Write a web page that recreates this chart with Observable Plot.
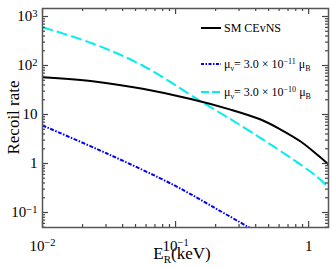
<!DOCTYPE html>
<html><head><meta charset="utf-8">
<script src="https://cdn.jsdelivr.net/npm/d3@7"></script>
<script src="https://cdn.jsdelivr.net/npm/@observablehq/plot@0.6"></script>
<style>body{margin:0;background:#fff}#chart{width:332px;height:267px}</style>
</head><body><div id="chart"></div>
<script>
// recoil energy (keV) and rates
const energySM = [0.01, 0.0238, 0.0565, 0.130, 0.259, 0.436, 0.616, 0.871, 1.23, 1.41];
const smCEvNS = [57.7, 47.9, 33.4, 20.7, 12.6, 7.9, 4.94, 2.81, 1.32, 0.955];
const energyMu10 = [0.01, 0.0238, 0.0565, 0.154, 0.259, 0.436, 0.616, 0.871, 1.13, 1.41];
const mu10 = [605, 281, 100, 18.7, 8.02, 3.30, 1.79, 0.946, 0.564, 0.324];
const energyMu11 = [0.01, 0.0308, 0.0983, 0.193, 0.354, 0.451];
const mu11 = [5.97, 1.58, 0.356, 0.128, 0.0501, 0.0343];

const xTicks = [0.01, 0.1, 1];
const xTickLabels = ["10^−2", "10^−1", "1"];
const yTicks = [0.1, 1, 10, 100, 1000];
const yTickLabels = ["10^−1", "1", "10", "10^2", "10^3"];

const seriesColors = ["#000000", "#0000ff", "#00eeee"];
const seriesDash = [null, "4,1.5,1.5,1.5", "11,4"];

const xDomain = [0.01, 1.41];
const yDomain = [0.0494, 1457];

const smData = energySM.map((e, i) => ({e, v: smCEvNS[i]}));
const mu10Data = energyMu10.map((e, i) => ({e, v: mu10[i]}));
const mu11Data = energyMu11.map((e, i) => ({e, v: mu11[i]}));

const minors = (lo, hi) => {
  const out = [];
  for (let p = -3; p <= 4; p++) for (let m = 2; m <= 9; m++) {
    const v = m * Math.pow(10, p);
    if (v >= lo && v <= hi) out.push(v);
  }
  return out;
};
const xMinor = minors(xDomain[0], xDomain[1]);
const yMinor = minors(yDomain[0], yDomain[1]);

const xFmt = new Map(xTicks.map((t, i) => [t, xTickLabels[i]]));
const yFmt = new Map(yTicks.map((t, i) => [t, yTickLabels[i]]));
const axisCol = "#555";

const W = 332, H = 267, mL = 42, mR = 4, mT = 8, mB = 40;
const pw = W - mL - mR, ph = H - mT - mB;
// inward tick marks: short rules inset from the frame on all four sides
const tickRules = [];
[[xTicks, 6], [xMinor, 3]].forEach(([d, len]) => {
  tickRules.push(Plot.ruleX(d, {x: v => v, insetTop: ph - len, stroke: "#444", strokeWidth: 1.2}));
  tickRules.push(Plot.ruleX(d, {x: v => v, insetBottom: ph - len, stroke: "#444", strokeWidth: 1.2}));
});
[[yTicks, 6], [yMinor, 3]].forEach(([d, len]) => {
  tickRules.push(Plot.ruleY(d, {y: v => v, insetRight: pw - len, stroke: "#444", strokeWidth: 1.2}));
  tickRules.push(Plot.ruleY(d, {y: v => v, insetLeft: pw - len, stroke: "#444", strokeWidth: 1.2}));
});

const plot = Plot.plot({
  width: W, height: H,
  marginLeft: mL, marginRight: mR, marginTop: mT, marginBottom: mB,
  style: {fontFamily: "Liberation Serif", fontSize: "15px", background: "#fff", color: "#000"},
  x: {type: "log", domain: xDomain, label: null},
  y: {type: "log", domain: yDomain, label: null},
  marks: [
    Plot.axisX(xTicks, {anchor: "bottom", tickSize: 0, tickPadding: 13, tickFormat: d => xFmt.get(d), fill: "#000", fontSize: 15}),
    Plot.axisY(yTicks, {anchor: "left", tickSize: 0, tickPadding: 5, tickFormat: d => yFmt.get(d), fill: "#000", fontSize: 15}),
    Plot.line(mu11Data, {x: "e", y: "v", stroke: seriesColors[1], strokeWidth: 2, strokeDasharray: seriesDash[1], strokeLinecap: "butt", curve: "catmull-rom", clip: true}),
    Plot.line(mu10Data, {x: "e", y: "v", stroke: seriesColors[2], strokeWidth: 2, strokeDasharray: seriesDash[2], strokeLinecap: "butt", curve: "catmull-rom", clip: true}),
    Plot.line(smData, {x: "e", y: "v", stroke: seriesColors[0], strokeWidth: 2, curve: "catmull-rom", clip: true}),
    ...tickRules,
    Plot.frame({stroke: axisCol, strokeWidth: 1.5})
  ]
});
document.getElementById("chart").appendChild(plot);

const svg = d3.select(plot);
svg.selectAll("text").each(function() {
  const m = /^(\d+)\^(.+)$/.exec(this.textContent);
  if (!m) return;
  const el = d3.select(this);
  el.text(null);
  el.append("tspan").text(m[1]);
  el.append("tspan").attr("dy", "-0.45em").attr("font-size", "70%").text(m[2]);
});

svg.append("text").attr("transform", "translate(19,117.5) rotate(-90)")
  .attr("text-anchor", "middle").attr("font-family", "Liberation Serif").attr("font-size", 17)
  .attr("fill", "#000").text("Recoil rate");
const xl = svg.append("text").attr("x", 182).attr("y", 259).attr("text-anchor", "middle")
  .attr("font-family", "Liberation Serif").attr("font-size", 17).attr("fill", "#000");
xl.append("tspan").text("E");
xl.append("tspan").attr("dy", 4).attr("font-size", 11).text("R");
xl.append("tspan").attr("dy", -4).text("(keV)");

const legendRows = [
  {y: 28, i: 0, parts: [["SM CEvNS", 0, null]]},
  {y: 64, i: 1, parts: [["μ", 0, null], ["ν", 3, 8], ["= 3.0 × 10", -3, null], ["−11", -4, 8], [" μ", 4, null], ["B", 3, 8]]},
  {y: 92, i: 2, parts: [["μ", 0, null], ["ν", 3, 8], ["= 3.0 × 10", -3, null], ["−10", -4, 8], [" μ", 4, null], ["B", 3, 8]]}
];
const lg = svg.append("g");
legendRows.forEach(r => {
  lg.append("line").attr("x1", 201).attr("x2", 221).attr("y1", r.y).attr("y2", r.y)
    .attr("stroke", seriesColors[r.i]).attr("stroke-width", 2)
    .attr("stroke-dasharray", r.i === 1 ? "3,1.5,1.5,1.5" : r.i === 2 ? "8,3" : null);
  const t = lg.append("text").attr("x", 224).attr("y", r.y + 4).attr("text-anchor", "start")
    .attr("font-family", "Liberation Serif").attr("font-size", 12).attr("fill", "#000");
  r.parts.forEach(([s, dy, fs]) => {
    const sp = t.append("tspan").attr("dy", dy).text(s);
    if (fs) sp.attr("font-size", fs);
  });
});
</script></body></html>
